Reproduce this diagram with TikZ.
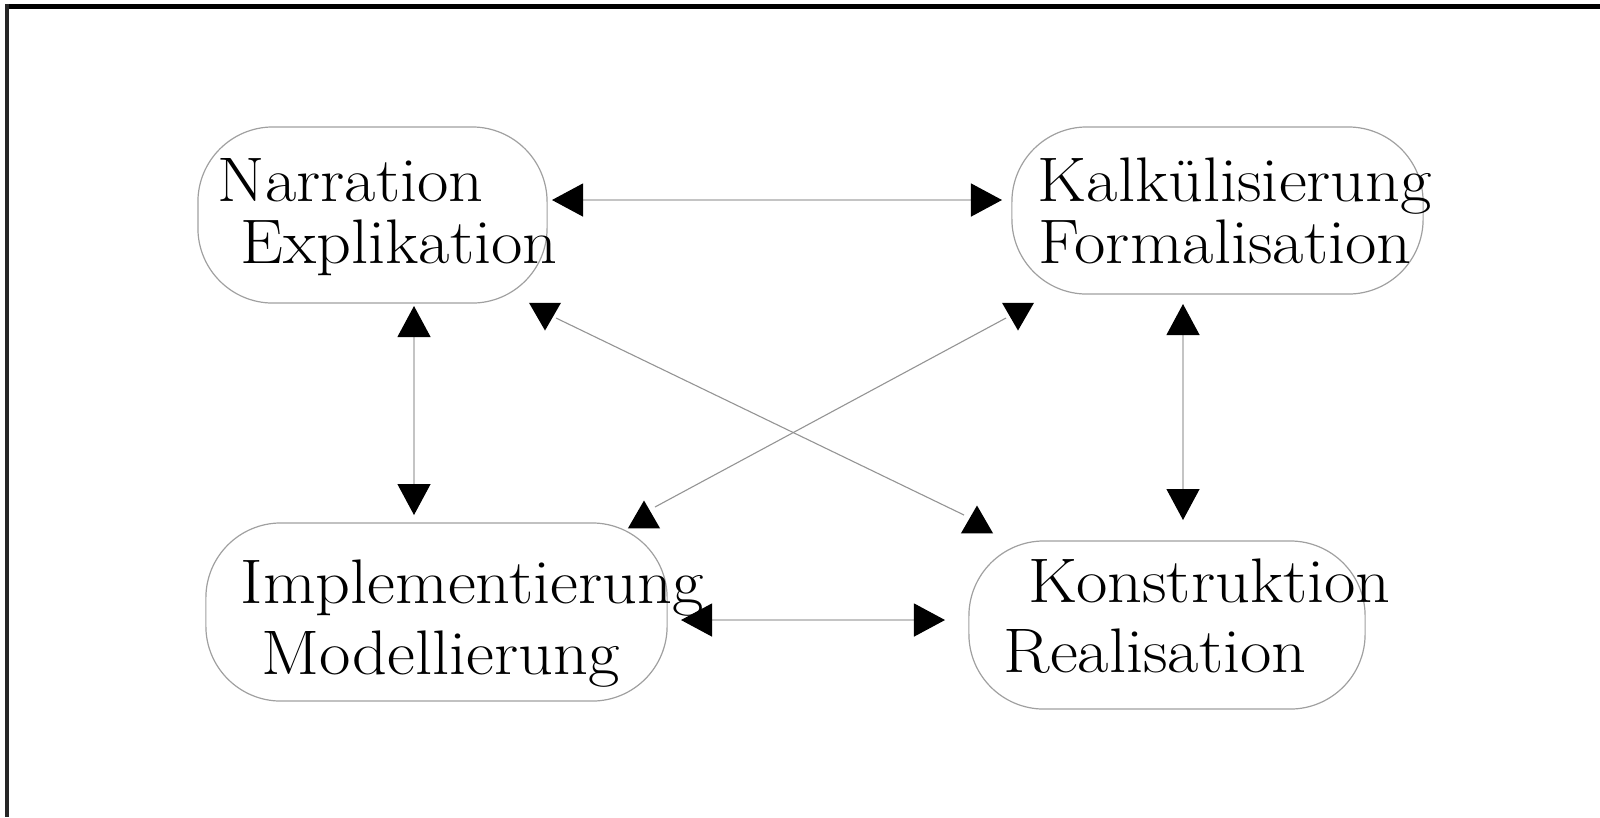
\documentclass[tikz,border=0pt]{standalone}
\usepackage{fontspec}
\usetikzlibrary{arrows.meta,shapes.geometric}
\definecolor{boxline}{HTML}{A0A0A0}
\definecolor{conline}{HTML}{C4C4C4}
\definecolor{diagline}{HTML}{949494}
\definecolor{frameleft}{HTML}{262626}
\newcommand{\wtxt}[1]{\scalebox{1.085}[1]{#1}}
\begin{document}
\begin{tikzpicture}[x=0.01cm,y=-0.01cm,
  box/.style={draw=boxline, line width=0.012cm, rounded corners=0.75cm, inner sep=0pt},
  lbl/.style={anchor=base west, inner sep=0pt, font=\fontsize{17.9pt}{20pt}\selectfont},
  conn/.style={draw=conline, line width=0.012cm, {Triangle[length=0.31cm,width=0.33cm,color=black]}-{Triangle[length=0.31cm,width=0.33cm,color=black]}},
  diag/.style={draw=diagline, line width=0.011cm},
  headup/.style={regular polygon, regular polygon sides=3, fill=black, inner sep=0pt, minimum size=0.37cm},
  headdown/.style={headup, shape border rotate=180}]
\useasboundingbox (0,0) rectangle (1600,817);
% frame
\fill[black] (5,4) rectangle (1600,9);
\fill[frameleft] (5,4) rectangle (9,817);
% boxes
\node[box, minimum width=3.49cm, minimum height=1.76cm] (nar) at (372.5,215) {};
\node[box, minimum width=4.11cm, minimum height=1.67cm] (kal) at (1217.5,210.5) {};
\node[box, minimum width=4.61cm, minimum height=1.78cm] (imp) at (436.5,612) {};
\node[box, minimum width=3.96cm, minimum height=1.68cm] (kon) at (1167,625) {};
% labels
\node[lbl] (narA) at (217,201) {\wtxt{Narration}};
\node[lbl] (narB) at (240,263) {\wtxt{Explikation}};
\node[lbl] (kalA) at (1037,201) {\wtxt{Kalkülisierung}};
\node[lbl] (kalB) at (1038,263) {\wtxt{Formalisation}};
\node[lbl] (impA) at (240,603) {\wtxt{Implementierung}};
\node[lbl] (impB) at (261,674) {\wtxt{Modellierung}};
\node[lbl] (konA) at (1028,602) {\wtxt{Konstruktion}};
\node[lbl] (konB) at (1003,672) {\wtxt{Realisation}};
% connector ends
\coordinate (h1a) at (552,200);
\coordinate (h1b) at (1002,200);
\coordinate (h2a) at (681,620);
\coordinate (h2b) at (945,620);
\coordinate (v1a) at (414,306);
\coordinate (v1b) at (414,515);
\coordinate (v2a) at (1183,304);
\coordinate (v2b) at (1183,520);
% straight connectors
\draw[conn] (h1a) -- (h1b);
\draw[conn] (h2a) -- (h2b);
\draw[conn] (v1a) -- (v1b);
\draw[conn] (v2a) -- (v2b);
% diagonal connectors
\node[headdown] (d1a) at (545,312) {};
\node[headup] (d1b) at (977,524) {};
\node[headdown] (d2a) at (1018,312) {};
\node[headup] (d2b) at (644,519) {};
\coordinate (d1s) at (556,318);
\coordinate (d1e) at (964,515);
\coordinate (d2s) at (1006,318);
\coordinate (d2e) at (655,507);
\draw[diag] (d1s) -- (d1e);
\draw[diag] (d2s) -- (d2e);
\end{tikzpicture}
\end{document}
